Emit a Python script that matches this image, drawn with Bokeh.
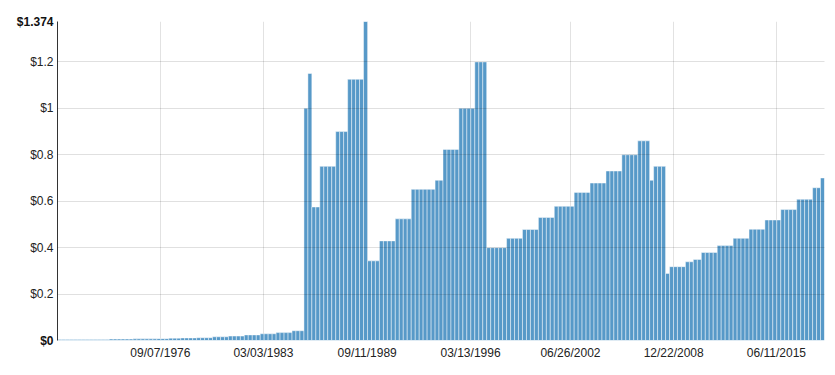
import pandas as pd
from bokeh.plotting import figure
from bokeh.models import (Range1d, FixedTicker, DatetimeTickFormatter,
                          CustomJSTickFormatter, LinearAxis, ColumnDataSource)
from bokeh.embed import file_html
from bokeh.resources import INLINE

# ---- data (quarterly dividend per share) ----
first_quarter = "1970-03-01"
day_in_quarter = 18
dividends = [
    0.004, 0.004, 0.004, 0.004, 0.004, 0.004, 0.004, 0.004, 0.004, 0.004,
    0.004, 0.004, 0.004, 0.006, 0.006, 0.006, 0.006, 0.006, 0.006, 0.007,
    0.007, 0.007, 0.007, 0.007, 0.007, 0.008, 0.008, 0.008, 0.010, 0.010,
    0.010, 0.011, 0.011, 0.011, 0.011, 0.012, 0.012, 0.012, 0.012, 0.016,
    0.016, 0.016, 0.016, 0.019, 0.019, 0.019, 0.019, 0.024, 0.024, 0.024,
    0.024, 0.029, 0.029, 0.029, 0.029, 0.034, 0.034, 0.034, 0.034, 0.042,
    0.042, 0.042, 1.000, 1.150, 0.575, 0.575, 0.750, 0.750, 0.750, 0.750,
    0.900, 0.900, 0.900, 1.125, 1.125, 1.125, 1.125, 1.374, 0.343, 0.343,
    0.343, 0.429, 0.429, 0.429, 0.429, 0.524, 0.524, 0.524, 0.524, 0.651,
    0.651, 0.651, 0.651, 0.651, 0.651, 0.690, 0.690, 0.823, 0.823, 0.823,
    0.823, 1.000, 1.000, 1.000, 1.000, 1.200, 1.200, 1.200, 0.400, 0.400,
    0.400, 0.400, 0.400, 0.440, 0.440, 0.440, 0.440, 0.478, 0.478, 0.478,
    0.478, 0.530, 0.530, 0.530, 0.530, 0.578, 0.578, 0.578, 0.578, 0.578,
    0.638, 0.638, 0.638, 0.638, 0.678, 0.678, 0.678, 0.678, 0.730, 0.730,
    0.730, 0.730, 0.800, 0.800, 0.800, 0.800, 0.860, 0.860, 0.860, 0.690,
    0.750, 0.750, 0.750, 0.289, 0.318, 0.318, 0.318, 0.318, 0.339, 0.339,
    0.349, 0.349, 0.379, 0.379, 0.379, 0.379, 0.409, 0.409, 0.409, 0.409,
    0.440, 0.440, 0.440, 0.440, 0.479, 0.479, 0.479, 0.479, 0.519, 0.519,
    0.519, 0.519, 0.564, 0.564, 0.564, 0.564, 0.608, 0.608, 0.608, 0.608,
    0.658, 0.658, 0.700,
]
tick_dates = ["1976-09-07", "1983-03-03", "1989-09-11", "1996-03-13",
              "2002-06-26", "2008-12-22", "2015-06-11"]
tick_format = "%m/%d/%Y"
y_ticks = [0.2, 0.4, 0.6, 0.8, 1.0, 1.2]

# ---- build ----
starts = pd.date_range(first_quarter, periods=len(dividends), freq="3MS") + pd.Timedelta(days=day_in_quarter)
ends = starts + pd.DateOffset(months=3)
src = ColumnDataSource(dict(left=list(starts.to_pydatetime()),
                            right=list(ends.to_pydatetime()),
                            top=dividends))

y_max = max(dividends)
end_ticks = [0, y_max]
p = figure(width=827, height=362, x_axis_type="datetime",
           x_range=Range1d(starts[0].to_pydatetime(), ends[-1].to_pydatetime()),
           y_range=Range1d(0, y_max),
           output_backend="svg", toolbar_location=None,
           min_border_left=57, min_border_right=3,
           min_border_top=21, min_border_bottom=21)
p.outline_line_color = None
p.background_fill_color = "white"

p.quad(left="left", right="right", top="top", bottom=0, source=src,
       fill_color="#5799c8", line_color="white", line_alpha=0.45, line_width=1)

FONT = "Liberation Sans"
fmt = CustomJSTickFormatter(code='return "$" + (+tick.toFixed(3)).toString();')

# x axis
xax = p.xaxis[0]
xax.ticker = FixedTicker(ticks=[pd.Timestamp(d).value // 10**6 for d in tick_dates])
xax.formatter = DatetimeTickFormatter(
    microseconds=tick_format, milliseconds=tick_format, seconds=tick_format,
    minsec=tick_format, minutes=tick_format, hourmin=tick_format, hours=tick_format,
    days=tick_format, months=tick_format, years=tick_format)
xax.axis_line_color = None
xax.major_tick_line_color = None
xax.minor_tick_line_color = None
xax.major_tick_out = 0
xax.major_label_standoff = 5

# y axis (regular labels, next to the plot area)
yax = p.yaxis[0]
yax.ticker = FixedTicker(ticks=y_ticks)
yax.formatter = fmt
yax.axis_line_color = "#333333"
yax.major_tick_line_color = None
yax.minor_tick_line_color = None
yax.major_tick_out = 0
yax.major_label_standoff = 4

for ax in (xax, yax):
    ax.major_label_text_font = FONT
    ax.major_label_text_font_size = "12px"
    ax.major_label_text_color = "#222222"

# second value axis for the bold end values; it sits outside the first
# one, so a negative standoff pulls its labels back next to the plot area
yend = LinearAxis(ticker=FixedTicker(ticks=end_ticks), formatter=fmt,
                  axis_line_color=None, major_tick_line_color=None,
                  minor_tick_line_color=None, major_tick_out=0,
                  major_label_standoff=-26,
                  major_label_text_font=FONT, major_label_text_font_size="12px",
                  major_label_text_font_style="bold",
                  major_label_text_color="#111111")
p.add_layout(yend, "left")

# grids
p.xgrid.grid_line_color = "#e2e2e2"
p.ygrid.ticker = FixedTicker(ticks=y_ticks)
p.ygrid.grid_line_color = "black"
p.ygrid.grid_line_alpha = 0.12
p.ygrid.level = "overlay"

open("out.html", "w").write(file_html(p, INLINE))
